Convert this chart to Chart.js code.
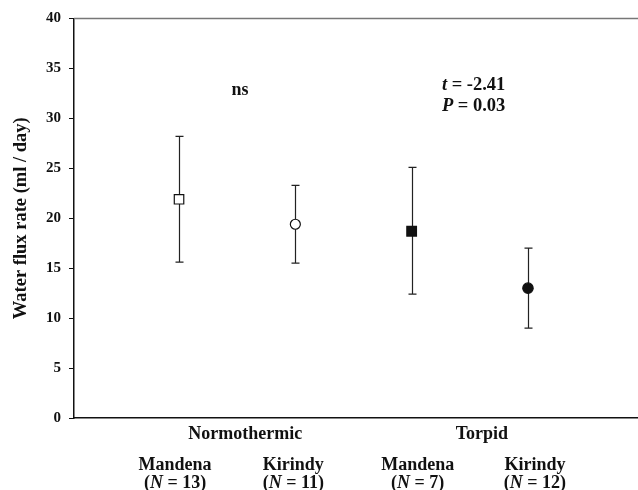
<!DOCTYPE html>
<html>
<head>
<meta charset="utf-8">
<script src="https://cdn.jsdelivr.net/npm/chart.js@4"></script>
<style>
  html, body { margin: 0; padding: 0; background: #fff; overflow: hidden; }
  canvas { display: block; }
</style>
</head>
<body>
<canvas id="chart1" width="638" height="490"></canvas>
<script>
// Water flux rate by group

const groups = ['Normothermic', 'Torpid'];
const sites = ['Mandena', 'Kirindy', 'Mandena', 'Kirindy'];
const sampleSizes = [13, 11, 7, 12];
const positions = [1, 2, 3, 4];
const means = [21.9, 19.4, 18.7, 13.0];
const upperBars = [28.2, 23.3, 25.1, 17.0];
const lowerBars = [15.6, 15.5, 12.4, 9.0];
const yTicks = [0, 5, 10, 15, 20, 25, 30, 35, 40];

const serif = '"Liberation Serif", "Times New Roman", serif';
const ink = '#111';

// draws a line of text made of plain / italic pieces
function richText(ctx, parts, x, baseline, size, align) {
    const fonts = parts.map(p => (p[1] ? 'italic ' : '') + 'bold ' + size + 'px ' + serif);
    const widths = parts.map((p, i) => { ctx.font = fonts[i]; return ctx.measureText(p[0]).width; });
    const total = widths.reduce((a, b) => a + b, 0);
    let cur = align === 'center' ? x - total / 2 : x;
    ctx.textAlign = 'left';
    ctx.textBaseline = 'alphabetic';
    parts.forEach((p, i) => {
        ctx.font = fonts[i];
        ctx.fillText(p[0], cur, baseline);
        cur += widths[i];
    });
}

// Error bars, behind the markers
const errorBars = {
    id: 'errorBars',
    beforeDatasetsDraw(chart) {
        const { ctx, scales: { x, y } } = chart;
        ctx.save();
        ctx.strokeStyle = '#222';
        ctx.lineWidth = 1.2;
        positions.forEach((p, i) => {
            const px = Math.round(x.getPixelForValue(p)) + 0.5;
            const top = y.getPixelForValue(upperBars[i]);
            const bot = y.getPixelForValue(lowerBars[i]);
            ctx.beginPath();
            ctx.moveTo(px, top); ctx.lineTo(px, bot);
            ctx.moveTo(px - 4, top); ctx.lineTo(px + 4, top);
            ctx.moveTo(px - 4, bot); ctx.lineTo(px + 4, bot);
            ctx.stroke();
        });
        ctx.restore();
    }
};

// Frame top, category labels and test results
const labels = {
    id: 'labels',
    afterDraw(chart) {
        const { ctx, chartArea, scales: { x, y } } = chart;
        ctx.save();

        ctx.strokeStyle = '#777';
        ctx.lineWidth = 1.5;
        ctx.beginPath();
        ctx.moveTo(chartArea.left, chartArea.top);
        ctx.lineTo(chartArea.right, chartArea.top);
        ctx.stroke();

        ctx.fillStyle = ink;
        const bottom = chartArea.bottom;

        // group names under each pair
        const groupShift = [8, 12];
        groups.forEach((g, i) => {
            const mid = (x.getPixelForValue(positions[2 * i]) + x.getPixelForValue(positions[2 * i + 1])) / 2;
            richText(ctx, [[g, false]], mid + groupShift[i], bottom + 21, 18, 'center');
        });

        // site names and sample sizes
        const siteShift = [-4, -2, 6, 7];
        sites.forEach((s, i) => {
            const cx = x.getPixelForValue(positions[i]) + siteShift[i];
            richText(ctx, [[s, false]], cx, bottom + 51.5, 18, 'center');
            richText(ctx, [['(', false], ['N', true], [' = ' + sampleSizes[i] + ')', false]], cx, bottom + 70, 18, 'center');
        });

        // statistics
        richText(ctx, [['ns', false]], x.getPixelForValue(1.524), y.getPixelForValue(32.3), 18, 'center');
        const left = x.getPixelForValue(3.26);
        richText(ctx, [['t', true], [' = -2.41', false]], left, y.getPixelForValue(32.8), 18.5, 'left');
        richText(ctx, [['P', true], [' = 0.03', false]], left, y.getPixelForValue(30.7), 18.5, 'left');

        ctx.restore();
    }
};

let chart1 = new Chart(document.getElementById('chart1'), {
    type: 'scatter',
    data: {
        datasets: [{
            data: positions.map((p, i) => ({ x: p, y: means[i] })),
            pointStyle: ['rect', 'circle', 'rect', 'circle'],
            pointRadius: [6.7, 5, 6.8, 5.2],
            pointHoverRadius: [6.7, 5, 6.8, 5.2],
            pointBackgroundColor: ['#fff', '#fff', ink, ink],
            pointBorderColor: ink,
            pointBorderWidth: 1.2,
            showLine: false
        }]
    },
    options: {
        responsive: false,
        animation: false,
        layout: { autoPadding: false, padding: { top: 18.5, right: 0, left: 0, bottom: 0 } },
        plugins: {
            legend: { display: false },
            tooltip: { enabled: false }
        },
        scales: {
            x: {
                type: 'linear',
                min: 0.097,
                max: 4.946,
                afterFit: s => { s.height = 72; },
                ticks: { display: false },
                grid: { drawOnChartArea: false, drawTicks: false },
                border: { display: true, color: ink, width: 1.5 }
            },
            y: {
                min: 0,
                max: 40,
                afterFit: s => { s.width = 74; },
                afterBuildTicks: s => { s.ticks = yTicks.map(v => ({ value: v })); },
                ticks: {
                    color: ink,
                    padding: 8,
                    font: { family: serif, size: 15, weight: 'bold' }
                },
                grid: { drawOnChartArea: false, drawTicks: true, tickLength: 5, color: ink, lineWidth: 1 },
                border: { display: true, color: ink, width: 1.5 },
                title: {
                    display: true,
                    text: 'Water flux rate (ml / day)',
                    color: ink,
                    font: { family: serif, size: 18.5, weight: 'bold' },
                    padding: { top: 10, bottom: 0 }
                }
            }
        }
    },
    plugins: [errorBars, labels]
});
</script>
</body>
</html>
